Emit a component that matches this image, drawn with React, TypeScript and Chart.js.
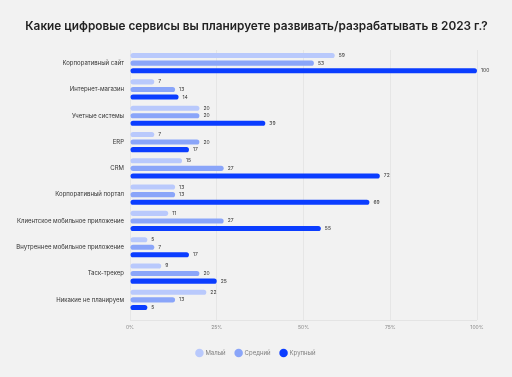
import React, { useEffect, useRef } from "react";
import { Chart, registerables } from "chart.js";

Chart.register(...registerables);

const categories = [
  "Корпоративный сайт",
  "Интернет-магазин",
  "Учетные системы",
  "ERP",
  "CRM",
  "Корпоративный портал",
  "Клиентское мобильное приложение",
  "Внутреннее мобильное приложение",
  "Таск-трекер",
  "Никакие не планируем",
];
const small = [59, 7, 20, 7, 15, 13, 11, 5, 9, 22];
const medium = [53, 13, 20, 20, 27, 13, 27, 7, 20, 13];
const large = [100, 14, 39, 17, 72, 69, 55, 17, 25, 5];
const seriesNames = ["Малый", "Средний", "Крупный"];
const xTicks = ["0%", "25%", "50%", "75%", "100%"];
const titleText = "Какие цифровые сервисы вы планируете развивать/разрабатывать в 2023 г.?";

const FONT = "Inter, 'Noto Sans', sans-serif";

const labelPlugin = {
  id: "valueLabels",
  beforeDraw(chart: any) {
    const ctx = chart.ctx;
    ctx.save();
    ctx.font = `600 11.8px ${FONT}`;
    ctx.fillStyle = "#222";
    ctx.textAlign = "center";
    ctx.textBaseline = "middle";
    ctx.fillText(titleText, chart.width / 2 + 0.5, 26);
    ctx.restore();
  },
  afterDatasetsDraw(chart: any) {
    const ctx = chart.ctx;
    ctx.save();
    ctx.font = `5px ${FONT}`;
    ctx.fillStyle = "#333";
    ctx.textBaseline = "middle";
    ctx.textAlign = "left";
    chart.data.datasets.forEach((ds: any, i: number) => {
      const meta = chart.getDatasetMeta(i);
      meta.data.forEach((bar: any, j: number) => {
        ctx.fillText(String(ds.data[j]), bar.x + 4, bar.y);
      });
    });
    const a = chart.chartArea;
    ctx.strokeStyle = "#e4e4e4";
    ctx.lineWidth = 1;
    ctx.beginPath();
    ctx.moveTo(a.left, a.bottom + 7.5);
    ctx.lineTo(a.right, a.bottom + 7.5);
    ctx.stroke();
    ctx.restore();
  },
};

export default function App() {
  const ref = useRef<HTMLCanvasElement>(null);
  useEffect(() => {
    const chart = new Chart(ref.current!, {
      type: "bar",
      data: {
        labels: categories,
        datasets: [
          { label: seriesNames[0], data: small, backgroundColor: "#b9c9fc" },
          { label: seriesNames[1], data: medium, backgroundColor: "#8aa5f9" },
          { label: seriesNames[2], data: large, backgroundColor: "#0b3dff" },
        ].map((d) => ({
          ...d,
          borderRadius: 3,
          borderSkipped: false,
          categoryPercentage: 0.865,
          barPercentage: 0.67,
        })),
      },
      options: {
        indexAxis: "y",
        responsive: false,
        animation: false,
        layout: { padding: { left: 0, right: 0, top: 50, bottom: 11 } },
        plugins: {
          title: { display: false },
          legend: {
            position: "bottom",
            labels: {
              usePointStyle: true,
              pointStyle: "circle",
              boxWidth: 6,
              boxHeight: 6,
              padding: 10,
              font: { family: FONT, size: 6 },
              color: "#808080",
            },
          },
          tooltip: { enabled: false },
        },
        scales: {
          x: {
            min: 0,
            max: 100,
            ticks: {
              stepSize: 25,
              callback: (_v: any, i: number) => xTicks[i],
              font: { family: FONT, size: 5 },
              color: "#888",
              padding: 4,
            },
            grid: { color: "#e6e6e6", tickLength: 7 },
            border: { display: false },
            afterFit: (s: any) => {
              s.height = 27;
            },
          },
          y: {
            ticks: {
              font: { family: FONT, size: 6 },
              color: "#333",
              padding: 6,
            },
            grid: { display: false, drawTicks: false },
            border: { display: false },
            afterFit: (s: any) => {
              s.width = 130;
            },
          },
          y2: {
            type: "category",
            position: "right",
            display: true,
            ticks: { display: false },
            grid: { display: false, drawTicks: false },
            border: { display: false },
            afterFit: (s: any) => {
              s.width = 35;
            },
          },
        },
      },
      plugins: [labelPlugin],
    } as any);
    return () => chart.destroy();
  }, []);
  return (
    <div
      style={{
        position: "absolute",
        left: 0,
        top: 0,
        width: 512,
        height: 377,
        background: "#f2f2f2",
      }}
    >
      <canvas ref={ref} width={512} height={377} />
    </div>
  );
}
